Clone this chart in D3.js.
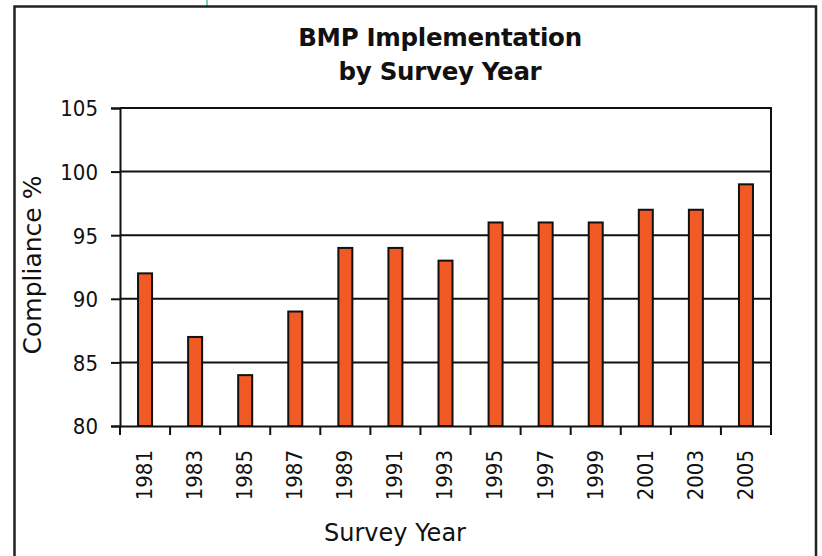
<!DOCTYPE html>
<html><head><meta charset="utf-8">
<script src="https://cdn.jsdelivr.net/npm/d3@7"></script>
<style>body{margin:0;background:#fff}svg{display:block}</style>
</head><body>
<svg id="c" width="822" height="556"></svg>
<script>
const years = ["1981","1983","1985","1987","1989","1991","1993","1995","1997","1999","2001","2003","2005"];
const compliance = [92, 87, 84, 89, 94, 94, 93, 96, 96, 96, 97, 97, 99];
const yTicks = [80, 85, 90, 95, 100, 105];
const titleLines = ["BMP Implementation", "by Survey Year"];
const xTitle = "Survey Year";
const yTitle = "Compliance %";

const svg = d3.select("#c");
const L = 120, R = 771, T = 108, B = 426;

// outer frame
svg.append("line").attr("x1",207).attr("x2",207).attr("y1",0).attr("y2",6)
  .attr("stroke","#7fcfbf").attr("stroke-width",2);
svg.append("rect").attr("x",14.5).attr("y",6.5).attr("width",801.5).attr("height",560)
  .attr("fill","none").attr("stroke","#222").attr("stroke-width",2.5);

const x = d3.scaleBand().domain(years).range([L, R]).paddingInner(0.72).paddingOuter(0.36);
const xb = d3.scaleBand().domain(years).range([L, R]);
const y = d3.scaleLinear().domain([80, 105]).range([B, T]);

// gridlines
svg.append("g").selectAll("line").data(yTicks.filter(v => v > 80)).join("line")
  .attr("x1", L).attr("x2", R).attr("y1", d => y(d)).attr("y2", d => y(d))
  .attr("stroke", "#111").attr("stroke-width", 2);
// right border
svg.append("line").attr("x1",R).attr("x2",R).attr("y1",T-1).attr("y2",B)
  .attr("stroke","#111").attr("stroke-width",2);

// bars
svg.append("g").selectAll("rect").data(compliance).join("rect")
  .attr("x", (d,i) => xb(years[i]) + xb.bandwidth()/2 - 7)
  .attr("width", 14)
  .attr("y", d => y(d))
  .attr("height", d => B - y(d))
  .attr("fill", "#f15a24").attr("stroke", "#111").attr("stroke-width", 2);

// y axis
const yAxis = svg.append("g").attr("transform", `translate(${L},0)`)
  .call(d3.axisLeft(y).tickValues(yTicks).tickSize(9).tickPadding(13).tickFormat(d3.format("d")));
yAxis.select(".domain").attr("stroke","#111").attr("stroke-width",2);
yAxis.selectAll(".tick line").attr("stroke","#111").attr("stroke-width",2);
yAxis.selectAll("text").attr("font-family","DejaVu Sans Condensed, DejaVu Sans").attr("font-size",22)
  .attr("fill","#111").attr("dy","0.36em");

// x axis (ticks on band boundaries)
const xAxis = svg.append("g").attr("transform", `translate(0,${B})`)
  .call(d3.axisBottom(xb).tickSize(0).tickFormat(""));
xAxis.select(".domain").attr("stroke","#111").attr("stroke-width",2);
xAxis.selectAll(".tick").remove();
const edges = years.map(d => xb(d)).concat([R]);
svg.append("g").selectAll("line").data(edges).join("line")
  .attr("x1", d => d).attr("x2", d => d).attr("y1", B).attr("y2", B + 9)
  .attr("stroke","#111").attr("stroke-width",2);
svg.append("g").selectAll("text").data(years).join("text")
  .attr("transform", d => `translate(${xb(d) + xb.bandwidth()/2 - 1},450) rotate(-90)`)
  .attr("text-anchor","end").attr("dy","0.36em")
  .attr("font-family","DejaVu Sans Condensed, DejaVu Sans").attr("font-size",22).attr("fill","#111")
  .text(d => d);

// titles
svg.append("g").selectAll("text").data(titleLines).join("text")
  .attr("x", 440).attr("y", (d,i) => 46 + i*34)
  .attr("text-anchor","middle").attr("font-family","DejaVu Sans").attr("font-weight","bold")
  .attr("font-size",24.5).attr("fill","#111").attr("letter-spacing",-0.3).text(d => d);
svg.append("text").attr("x", 395).attr("y", 541).attr("text-anchor","middle")
  .attr("font-family","DejaVu Sans").attr("font-size",24).attr("fill","#111").text(xTitle);
svg.append("text").attr("transform","translate(41,265) rotate(-90)").attr("text-anchor","middle")
  .attr("font-family","DejaVu Sans").attr("font-size",25).attr("fill","#111").text(yTitle);
</script>
</body></html>
